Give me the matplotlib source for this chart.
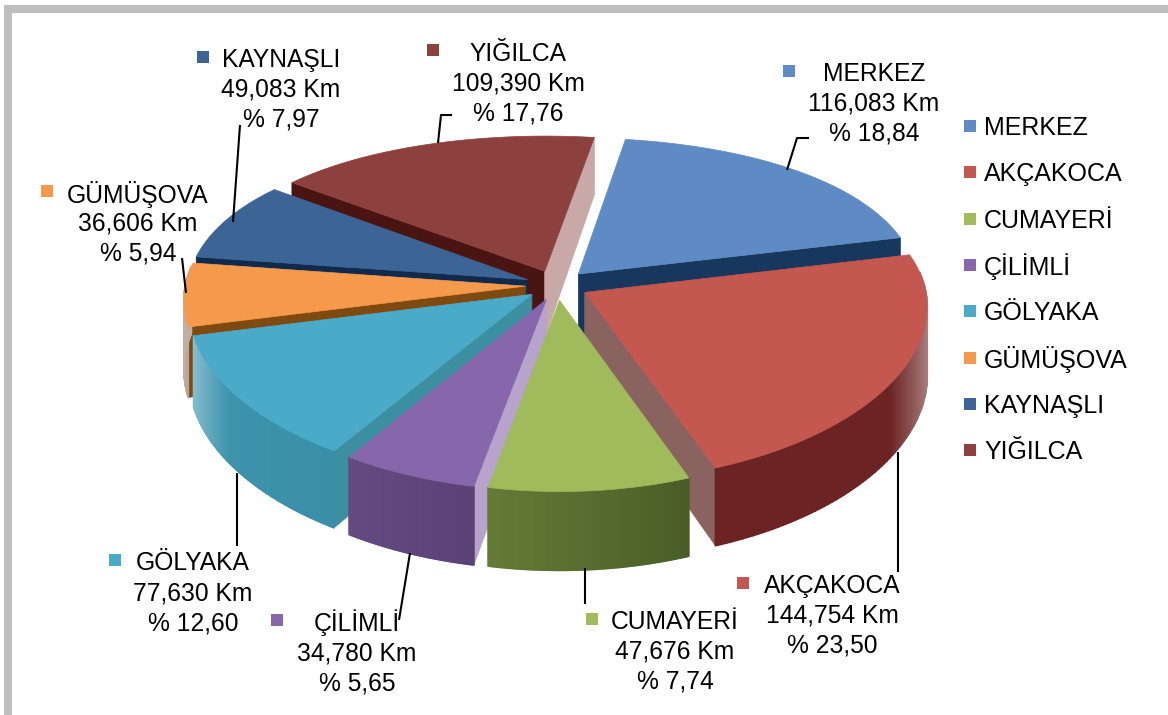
import numpy as np
import matplotlib
matplotlib.use("Agg")
import matplotlib.pyplot as plt
from matplotlib.collections import PolyCollection
from matplotlib.patches import Polygon, Rectangle

# ---- data ----
names = ["MERKEZ", "AKÇAKOCA", "CUMAYERİ", "ÇİLİMLİ", "GÖLYAKA", "GÜMÜŞOVA", "KAYNAŞLI", "YIĞILCA"]
km_text = ["116,083 Km", "144,754 Km", "47,676 Km", "34,780 Km", "77,630 Km", "36,606 Km", "49,083 Km", "109,390 Km"]
pct_text = ["% 18,84", "% 23,50", "% 7,74", "% 5,65", "% 12,60", "% 5,94", "% 7,97", "% 17,76"]
values = [116.083, 144.754, 47.676, 34.780, 77.630, 36.606, 49.083, 109.390]

# ---- styles ----
top_col = ["#5f8bc4", "#c4574f", "#a0bb5b", "#8667ab", "#4aaac8", "#f59a4d", "#3c6595", "#8c413e"]
wall_a = ["#2d5078", "#6b2323", "#4a5d26", "#5a4277", "#3a8ea8", "#8f6f58", "#1f3c5e", "#5a1f1e"]
wall_b = ["#2d5078", "#6b2323", "#647b37", "#634a80", "#3f96b0", "#8f6f58", "#1f3c5e", "#5a1f1e"]
cut_start = ["#17375e", "#8a6260", "#4f6228", "#b8a3cc", "#3c8fa0", "#7f4a10", "#0f2a4c", "#4a1413"]
cut_end = ["#17375e", "#8a6260", "#4f6228", "#b8a3cc", "#3c8fa0", "#7f4a10", "#0f2a4c", "#c9a9a7"]
draw_order = [7, 0, 6, 5, 1, 4, 3, 2]

# ---- layout ----
W, H = 1168, 715
CX, CY, RX, RY = 557, 285, 340, 163
KX, KY, EXPL, DEPTH, START = 0.08, 0.146, 0.093, 68, 9.0
# small correction of the drawn angle for the source picture's perspective
warp_at = [9, 79, 163, 190, 211, 256, 300, 369]
warp_by = [0, -0.5, -2, 2, 3, 1, 3, 0]

label_xy = [(874, 72), (832, 584), (675, 620), (357, 621), (193, 561), (138, 192), (281, 58), (518, 52)]
key_xy = [(789, 71), (743, 583), (592, 619), (277, 620), (115, 560), (47, 191), (203, 57), (433, 50)]
leaders = [[(787, 170), (797, 138), (809, 138)], [(898, 452), (898, 572)], [(585, 568), (585, 604)],
           [(410, 553), (399, 620)], [(237, 473), (237, 546)], [(186, 293), (182, 258)],
           [(233, 222), (240, 125)], [(438, 143), (441, 115), (452, 115)]]
legend_x, legend_y0, legend_dy = 970, 126, 46.3
FS = 17.7
FS_LEG = 18
LINE = 30
TXT_DY = 2

plt.rcParams["font.family"] = ["Liberation Sans", "DejaVu Sans"]
fig = plt.figure(figsize=(W / 100, H / 100), dpi=100)
ax = fig.add_axes([0, 0, 1, 1])
ax.set_xlim(0, W)
ax.set_ylim(H, 0)
ax.axis("off")

ax.add_patch(Rectangle((4, 5), W, 8, color="#bfbfbf", lw=0))
ax.add_patch(Rectangle((4, 5), 8, H, color="#bfbfbf", lw=0))


def project(u, v, z=0.0):
    x = CX + RX * u * (1 + KX * v)
    y = CY + (RY * v + z) * (1 + KY * v)
    return np.column_stack([np.atleast_1d(x), np.atleast_1d(y)])


def blend(c, t, target=(1, 1, 1)):
    c = np.array(matplotlib.colors.to_rgb(c))
    return c + (np.array(target) - c) * t


def warp(deg):
    return deg + np.interp(deg, warp_at, warp_by)


total = sum(values)
spans = [360 * v / total for v in values]
edges = START + np.concatenate([[0], np.cumsum(spans)])

for rank, i in enumerate(draw_order):
    z0 = 2 + rank * 3
    mid = np.radians((edges[i] + edges[i + 1]) / 2)
    ou, ov = EXPL * np.sin(mid), -EXPL * np.cos(mid)
    th = np.radians(warp(np.linspace(edges[i], edges[i + 1], 90)))
    a0, a1 = th[0], th[-1]
    us, vs = ou + np.sin(th), ov - np.cos(th)

    # cut walls
    for ang, col, sign in ((a0, cut_start[i], -1), (a1, cut_end[i], 1)):
        if sign * np.sin(ang) > 0:
            eu, ev = ou + np.sin(ang), ov - np.cos(ang)
            quad = np.vstack([project(ou, ov), project(eu, ev), project(eu, ev, DEPTH), project(ou, ov, DEPTH)])
            ax.add_patch(Polygon(quad, fc=col, ec=col, lw=0.5, zorder=z0))

    # outer wall, shaded by direction
    top = project(us, vs)
    bot = project(us, vs, DEPTH)
    quads, cols = [], []
    ca, cb = matplotlib.colors.to_rgb(wall_a[i]), matplotlib.colors.to_rgb(wall_b[i])
    for k in range(len(th) - 1):
        if np.cos(th[k]) < 0.12 or np.cos(th[k + 1]) < 0.12:
            quads.append([top[k], top[k + 1], bot[k + 1], bot[k]])
            side = abs(np.sin((th[k] + th[k + 1]) / 2))
            base = np.array(ca) + (np.array(cb) - np.array(ca)) * k / (len(th) - 2)
            cols.append(tuple(blend(base, max(0, side - 0.85) * 3.0)))
    if quads:
        ax.add_collection(PolyCollection(quads, facecolors=cols, edgecolors=cols, linewidths=1.2, zorder=z0 + 1))

    # top face
    face = np.vstack([project(ou, ov), top])
    ax.add_patch(Polygon(face, fc=top_col[i], ec=top_col[i], lw=0.5, zorder=z0 + 2))

for i in range(len(names)):
    pts = np.array(leaders[i])
    ax.plot(pts[:, 0], pts[:, 1], color="black", lw=1.5, zorder=40, solid_capstyle="butt")
    lx, ly = label_xy[i]
    ax.text(lx, ly + TXT_DY, names[i], ha="center", va="center", fontsize=FS, color="black", zorder=41)
    ax.text(lx, ly + TXT_DY + LINE, km_text[i], ha="center", va="center", fontsize=FS, color="black", zorder=41)
    ax.text(lx, ly + TXT_DY + 2 * LINE, pct_text[i], ha="center", va="center", fontsize=FS, color="black", zorder=41)
    kx, ky = key_xy[i]
    ax.add_patch(Rectangle((kx - 6, ky - 6), 12, 12, fc=top_col[i], ec="none", zorder=41))
    gy = legend_y0 + i * legend_dy
    ax.add_patch(Rectangle((legend_x - 6, gy - 6), 12, 12, fc=top_col[i], ec="none", zorder=41))
    ax.text(legend_x + 14, gy + TXT_DY, names[i], ha="left", va="center", fontsize=FS_LEG, color="black", zorder=41)

fig.savefig("out.png", dpi=100, facecolor="white")
